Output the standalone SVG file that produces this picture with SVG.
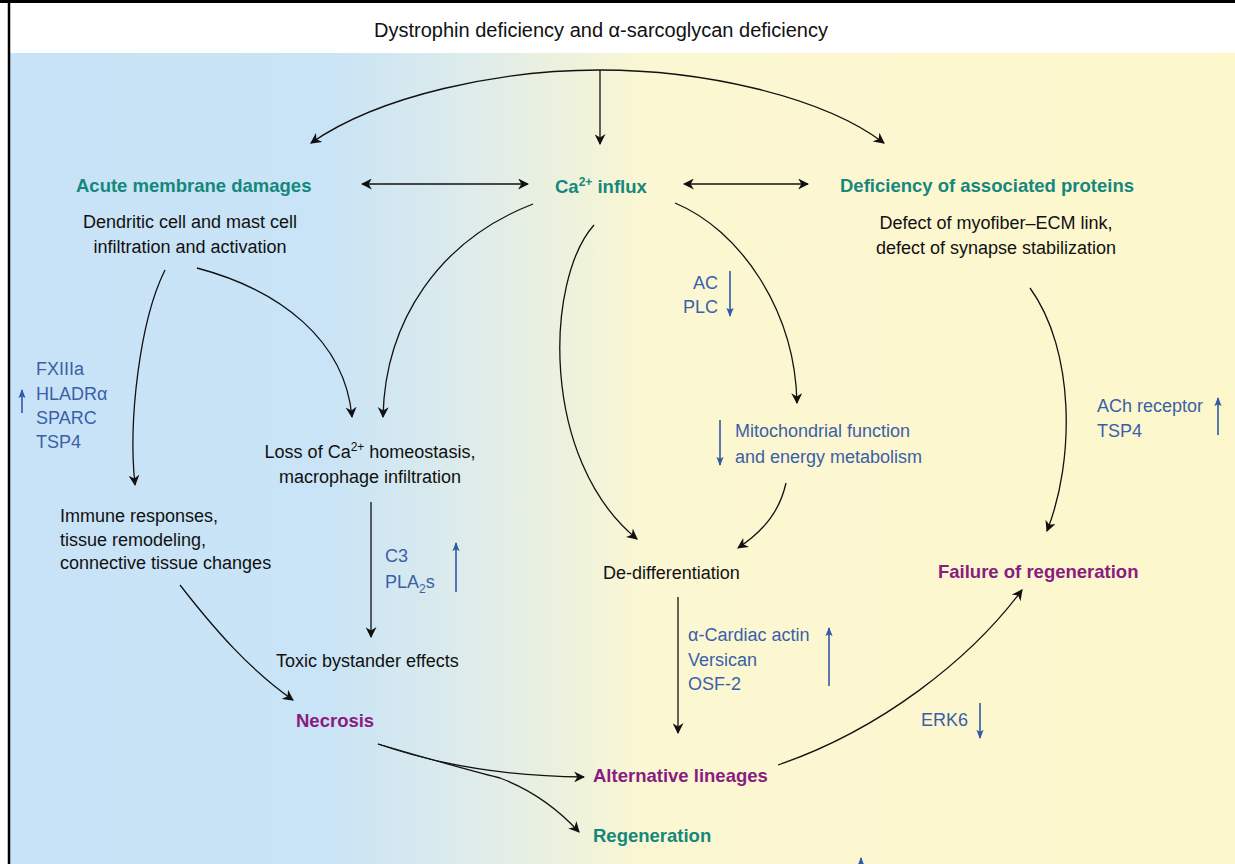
<svg xmlns="http://www.w3.org/2000/svg" width="1235" height="864" viewBox="0 0 1235 864">
<defs>
<linearGradient id="bg" x1="0" y1="0" x2="1" y2="0" gradientUnits="objectBoundingBox">
<stop offset="0" stop-color="#c8e3f7"/>
<stop offset="0.26" stop-color="#c9e4f6"/>
<stop offset="0.38" stop-color="#dfecea"/>
<stop offset="0.46" stop-color="#eef2dc"/>
<stop offset="0.52" stop-color="#fbf7d2"/>
<stop offset="1" stop-color="#fdf7cc"/>
</linearGradient>
<marker id="ah" viewBox="0 0 10 10" refX="9" refY="5" markerWidth="11" markerHeight="11" markerUnits="userSpaceOnUse" orient="auto-start-reverse">
<path d="M0,0 L10,5 L0,10 L3,5 Z" fill="#111"/>
</marker>
<marker id="bh" viewBox="0 0 10 10" refX="9" refY="5" markerWidth="9" markerHeight="9" markerUnits="userSpaceOnUse" orient="auto">
<path d="M0,1 L10,5 L0,9 L2,5 Z" fill="#2f5aa6"/>
</marker>
<style>
text{font-family:"Liberation Sans",Arial,sans-serif;font-size:18px;fill:#111}
.title{font-size:20px}
.teal{fill:#15877c;font-weight:bold;font-size:18.5px}
.purple{fill:#8a1b80;font-weight:bold;font-size:18.5px}
.blue{fill:#3b5fa8}
.c{text-anchor:middle}
.con path{fill:none;stroke:#111;stroke-width:1.3;marker-end:url(#ah)}
.bl line{stroke:#2f5aa6;stroke-width:1.6;marker-end:url(#bh)}
</style>
</defs>
<rect x="0" y="0" width="1235" height="864" fill="#ffffff"/>
<rect x="10" y="53" width="1225" height="811" fill="url(#bg)"/>
<line x1="0" y1="1.5" x2="1235" y2="1.5" stroke="#000" stroke-width="3"/>
<line x1="9" y1="0" x2="9" y2="864" stroke="#000" stroke-width="2.5"/>
<g id="title"><text x="601" y="37" class="c title">Dystrophin deficiency and α-sarcoglycan deficiency</text></g>

<g id="connectors" class="con">
<path d="M600,70 C500,70 380,95 311,143"/>
<path d="M600,70 C700,70 820,95 884,143"/>
<path d="M600,70 V144"/>
<path d="M362,184 H528" marker-start="url(#ah)"/>
<path d="M684,184 H808" marker-start="url(#ah)"/>
<path d="M533,204 C440,240 385,320 383,417"/>
<path d="M197,268 C280,290 345,340 352,417"/>
<path d="M165,270 C140,320 128,420 135,485"/>
<path d="M594,225 C545,280 540,460 637,539"/>
<path d="M675,203 C740,230 795,310 797,403"/>
<path d="M786,483 C780,510 765,530 738,548"/>
<path d="M1030,288 C1075,350 1075,460 1047,531"/>
<path d="M371,502 V637"/>
<path d="M678,597 V733"/>
<path d="M180,585 C215,630 250,670 293,700"/>
<path d="M378,744 Q470,776 584,777"/>
<path d="M378,744 Q460,768 500,778 Q545,795 579,832"/>
<path d="M778,765 C880,730 970,660 1022,590"/>
</g>

<g id="regulation-arrows" class="bl">
<line x1="22" y1="413" x2="22" y2="390"/>
<line x1="730" y1="271" x2="730" y2="316"/>
<line x1="720" y1="420" x2="720" y2="465"/>
<line x1="1218" y1="435" x2="1218" y2="398"/>
<line x1="456" y1="592" x2="456" y2="543"/>
<line x1="829" y1="686" x2="829" y2="628"/>
<line x1="980" y1="703" x2="980" y2="738"/>
<line x1="861" y1="884" x2="861" y2="858"/>
</g>

<g id="acute"><text x="76" y="192" class="teal">Acute membrane damages</text>
<text x="190" y="228" class="c">Dendritic cell and mast cell</text>
<text x="190" y="253" class="c">infiltration and activation</text></g>

<g id="ca-influx"><text x="555" y="193" class="teal">Ca<tspan font-size="12" dy="-7">2+</tspan><tspan dy="7"> influx</tspan></text></g>

<g id="deficiency"><text x="840" y="192" class="teal">Deficiency of associated proteins</text>
<text x="996" y="229" class="c">Defect of myofiber–ECM link,</text>
<text x="996" y="254" class="c">defect of synapse stabilization</text></g>

<g id="markers-left"><text x="36" y="375" class="blue">FXIIIa</text>
<text x="36" y="400" class="blue">HLADRα</text>
<text x="36" y="424" class="blue">SPARC</text>
<text x="36" y="448" class="blue">TSP4</text></g>

<g id="ac-plc"><text x="718" y="289" class="blue" text-anchor="end">AC</text>
<text x="718" y="313" class="blue" text-anchor="end">PLC</text></g>

<g id="loss-ca"><text x="370" y="458" class="c">Loss of Ca<tspan font-size="12" dy="-7">2+</tspan><tspan dy="7"> homeostasis,</tspan></text>
<text x="370" y="483" class="c">macrophage infiltration</text></g>

<g id="mito"><text x="735" y="437" class="blue">Mitochondrial function</text>
<text x="735" y="463" class="blue">and energy metabolism</text></g>

<g id="ach"><text x="1097" y="412" class="blue">ACh receptor</text>
<text x="1097" y="437" class="blue">TSP4</text></g>

<g id="immune"><text x="60" y="522">Immune responses,</text>
<text x="60" y="546">tissue remodeling,</text>
<text x="60" y="569">connective tissue changes</text></g>

<g id="c3"><text x="385" y="562" class="blue">C3</text>
<text x="385" y="588" class="blue">PLA<tspan font-size="12" dy="5">2</tspan><tspan dy="-5">s</tspan></text></g>

<g id="dediff"><text x="603" y="579">De-differentiation</text></g>
<g id="failure"><text x="938" y="578" class="purple">Failure of regeneration</text></g>
<g id="toxic"><text x="276" y="667">Toxic bystander effects</text></g>

<g id="cardiac"><text x="688" y="641" class="blue">α-Cardiac actin</text>
<text x="688" y="666" class="blue">Versican</text>
<text x="688" y="690" class="blue">OSF-2</text></g>

<g id="necrosis"><text x="296" y="727" class="purple">Necrosis</text></g>
<g id="erk6"><text x="921" y="726" class="blue">ERK6</text></g>
<g id="alternative"><text x="593" y="782" class="purple">Alternative lineages</text></g>
<g id="regeneration"><text x="593" y="842" class="teal">Regeneration</text></g>
</svg>
